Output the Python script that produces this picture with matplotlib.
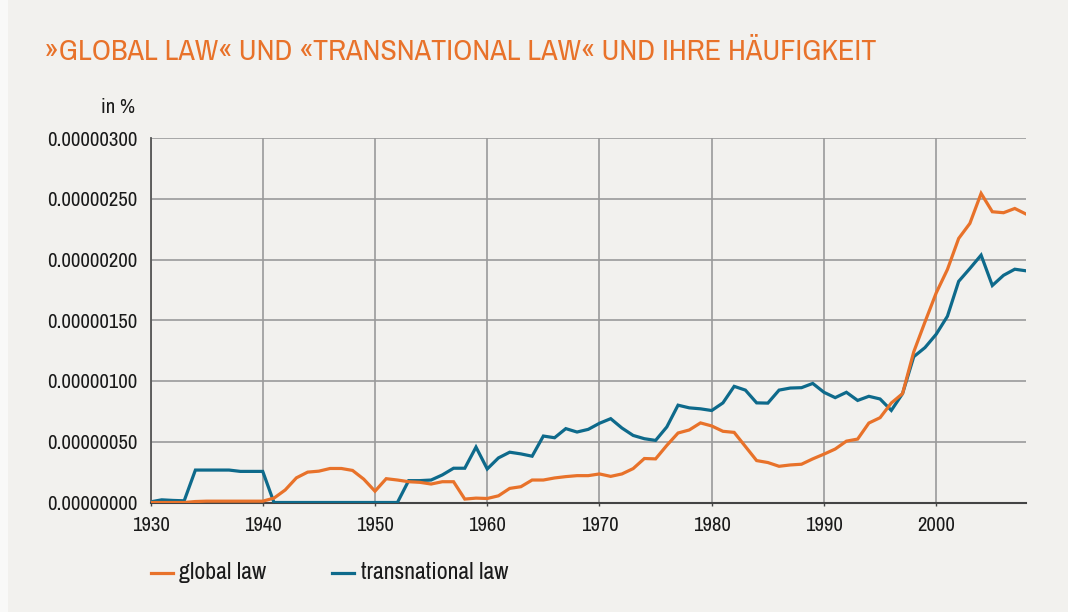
import numpy as np
import matplotlib
matplotlib.use("Agg")
import matplotlib.pyplot as plt
from matplotlib import font_manager as fm
from matplotlib.lines import Line2D
from matplotlib.patches import Rectangle

years = list(range(1930, 2009))

# values in units of 1e-8 percent
global_law = [
    0, 0, 0, 0, 0.8, 1.1, 1.1, 1.1, 1.1, 1.1,          # 1930-1939
    1.1, 3.6, 10.3, 20.3, 25, 25.8, 28, 28, 26.4, 19.2,  # 1940-1949
    9.3, 19.6, 18.5, 17.1, 16.6, 15.2, 17.1, 17.1, 2.8, 3.6,  # 1950-1959
    3.3, 5.5, 11.6, 13, 18.5, 18.5, 20.2, 21.3, 22.1, 22.1,   # 1960-1969
    23.5, 21.5, 23.5, 27.9, 36.2, 35.9, 47, 57.2, 59.7, 65.5, # 1970-1979
    63, 58.6, 57.7, 46.1, 34.5, 32.9, 29.8, 30.9, 31.5, 35.9, # 1980-1989
    39.8, 44, 50.5, 52.2, 65.4, 69.8, 81.9, 89.6, 124, 148.6, # 1990-1999
    172.5, 191.8, 217.3, 229.7, 254.4, 239.3, 238.5, 242, 237.4,  # 2000-2008
]
transnational_law = [
    0.5, 2.2, 1.7, 1.4, 26.7, 26.7, 26.7, 26.7, 25.6, 25.6,  # 1930-1939
    25.6, 0, 0, 0, 0, 0, 0, 0, 0, 0,                          # 1940-1949
    0, 0, 0, 18, 18, 18.5, 22.7, 28.2, 28.2, 45.6,            # 1950-1959
    27.6, 36.7, 41.4, 40, 38.1, 54.7, 53.3, 60.8, 58, 60.2,   # 1960-1969
    65.2, 69, 61.3, 55.2, 52.5, 51.1, 62.2, 80.1, 77.9, 77.1, # 1970-1979
    75.7, 82, 95.6, 92.5, 82, 81.8, 92.5, 94.2, 94.5, 98,     # 1980-1989
    90.7, 86.3, 90.7, 84, 87.4, 85.2, 75.8, 89.6, 120, 127.5, # 1990-1999
    138.5, 153.3, 182, 192.6, 203.6, 178.6, 187, 192, 190.7,  # 2000-2008
]
series_labels = ["global law", "transnational law"]
title_text = "»GLOBAL LAW« UND «TRANSNATIONAL LAW« UND IHRE HÄUFIGKEIT"
unit_text = "in %"
x_ticks = [1930, 1940, 1950, 1960, 1970, 1980, 1990, 2000]
y_ticks = [0, 50, 100, 150, 200, 250, 300]

UNIT = 1e-8
BG = "#f2f1ee"
ORANGE = "#e8722a"
BLUE = "#0e6a8b"
GRID = "#9a9a9a"
TEXT = "#1a1a1a"
W, H = 1068, 612

# pick a narrow / condensed family if one is installed, else Roboto
fam, stretch = "Roboto", "normal"
for f in fm.fontManager.ttflist:
    nm = f.name.lower()
    if "narrow" in nm or "condensed" in nm:
        fam, stretch = f.name, "normal"
        break
else:
    for f in fm.fontManager.ttflist:
        if f.stretch in ("condensed", "semi-condensed") and f.name in (
                "DejaVu Sans", "Liberation Sans", "Noto Sans", "Open Sans", "Roboto"):
            fam, stretch = f.name, f.stretch
            break
FONT = [fam, "DejaVu Sans"]
plt.rcParams["font.family"] = FONT
plt.rcParams["font.stretch"] = stretch

fig = plt.figure(figsize=(W / 100, H / 100), dpi=100, facecolor=BG)
renderer = fig.canvas.get_renderer()


def fit_size(text, target_px, ref=20.0):
    t = fig.text(0, 0, text, fontsize=ref)
    w = t.get_window_extent(renderer).width
    t.remove()
    return ref * target_px / w


def fx(px):
    return px / W


def fy(py):
    return 1 - py / H


title_size = fit_size(title_text, 832)
label_size = fit_size("0.00000300", 90)
legend_size = fit_size(series_labels[1], 147.6)

fig.add_artist(Rectangle((0, 0), fx(8), 1, transform=fig.transFigure,
                         facecolor="#f9f9f8", edgecolor="none", zorder=0))

ax = fig.add_axes([fx(150.5), fy(502.5), fx(1026 - 150.5), (502.5 - 138) / H])
ax.set_facecolor(BG)

yrs = np.array(years)
g = np.array(global_law) * UNIT
t = np.array(transnational_law) * UNIT

ax.plot(yrs, t, color=BLUE, lw=2.3, solid_joinstyle="miter", zorder=3)
ax.plot(yrs, g, color=ORANGE, lw=2.3, solid_joinstyle="miter", zorder=4)

ax.set_xlim(1930, 2008)
ax.set_ylim(0, 300 * UNIT)
ax.set_xticks(x_ticks)
ax.set_yticks([v * UNIT for v in y_ticks])
ax.set_yticklabels([f"{v * UNIT:.8f}" for v in y_ticks])
ax.set_xticklabels([str(v) for v in x_ticks])

ax.grid(True, color=GRID, lw=1.2, zorder=1)
ax.set_axisbelow(True)
for s in ["top", "right"]:
    ax.spines[s].set_visible(False)
ax.spines["left"].set_color("#555555")
ax.spines["left"].set_linewidth(1.3)
ax.spines["bottom"].set_color("#444444")
ax.spines["bottom"].set_linewidth(1.5)
ax.tick_params(axis="y", length=0, pad=9.5, labelsize=label_size, labelcolor=TEXT)
ax.tick_params(axis="x", length=2.5, width=1, color="#444444", pad=7,
               labelsize=label_size, labelcolor=TEXT)

fig.text(fx(45), fy(60), title_text, color=ORANGE, fontsize=title_size,
         ha="left", va="baseline")
fig.text(fx(135), fy(113), unit_text, color=TEXT, fontsize=label_size,
         ha="right", va="baseline")

# legend
leg_items = [(ORANGE, 150.7, 173.3, 179.3, series_labels[0]),
             (BLUE, 331.7, 354.0, 360.7, series_labels[1])]
for col, x0, x1, xt, lab in leg_items:
    fig.add_artist(Line2D([fx(x0), fx(x1)], [fy(573.3), fy(573.3)],
                          transform=fig.transFigure, color=col, lw=2.3))
    fig.text(fx(xt), fy(579), lab, color=TEXT, fontsize=legend_size,
             ha="left", va="baseline")

fig.savefig("out.png", dpi=100, facecolor=BG)
